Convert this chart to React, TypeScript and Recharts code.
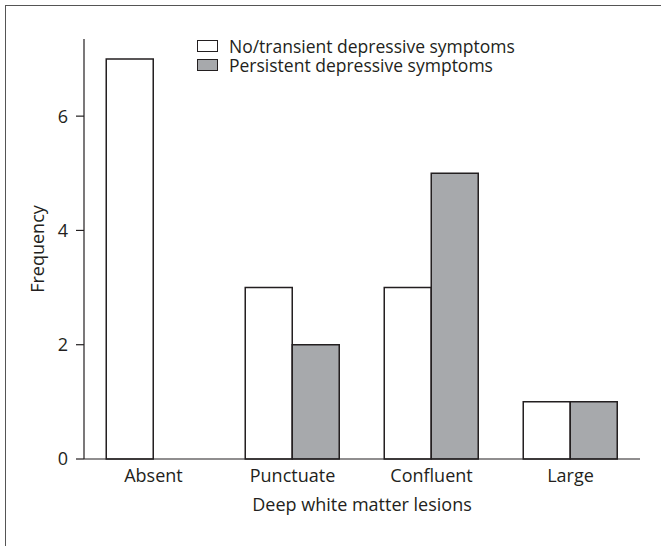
import React from "react";
import { BarChart, Bar, XAxis, YAxis, Legend } from "recharts";

const categories = ["Absent", "Punctuate", "Confluent", "Large"];
const noTransient = [7, 3, 3, 1];
const persistent = [0, 2, 5, 1];
const yTicks = [0, 2, 4, 6];
const boundaryTicks = [0, 1, 2, 3, 4];

const seriesNames = {
  noTransient: "No/transient depressive symptoms",
  persistent: "Persistent depressive symptoms",
};

const data = categories.map((c, i) => ({
  name: c,
  noTransient: noTransient[i],
  persistent: persistent[i] || null,
}));

const FONT = "'Open Sans', sans-serif";
const INK = "#231f20";
const GRAY = "#a7a9ac";
const FS = 18;

function LegendBox({ payload }: any) {
  return (
    <div style={{ fontFamily: FONT, fontSize: 17.5, color: INK, lineHeight: "18.5px" }}>
      {(payload || []).map((p: any) => (
        <div key={p.value} style={{ display: "flex", alignItems: "center", height: 18.5 }}>
          <span
            style={{
              display: "inline-block",
              width: 19,
              height: 10,
              border: `1.5px solid ${INK}`,
              background: p.color,
              marginRight: 11,
            }}
          />
          <span>{p.value}</span>
        </div>
      ))}
    </div>
  );
}

export default function App() {
  return (
    <div style={{ position: "absolute", left: 0, top: 0, width: 661, height: 546, background: "#fff", overflow: "hidden" }}>
      <div
        style={{
          position: "absolute",
          left: 5,
          top: 5,
          width: 700,
          height: 600,
          borderLeft: "1.5px solid #555",
          borderTop: "1.5px solid #555",
        }}
      />
      <BarChart
        width={661}
        height={546}
        data={data}
        margin={{ top: 39, right: 21, bottom: 27, left: 36 }}
        barCategoryGap="16%"
        barGap={0}
        style={{ position: "absolute", left: 0, top: 0 }}
      >
        <XAxis
          xAxisId="bounds"
          type="number"
          domain={[0, 4]}
          ticks={boundaryTicks}
          tickFormatter={() => ""}
          axisLine={false}
          tickLine={{ stroke: INK, strokeWidth: 1.2 }}
          tickSize={7}
          height={0}
        />
        <XAxis
          dataKey="name"
          tickLine={false}
          tickSize={0}
          tickMargin={10}
          axisLine={{ stroke: INK, strokeWidth: 1.2 }}
          tick={{ fill: INK, fontSize: FS, fontFamily: FONT }}
          height={60}
          label={{
            value: "Deep white matter lesions",
            position: "insideBottom",
            offset: 8,
            style: { fill: INK, fontSize: FS, fontFamily: FONT },
          }}
        />
        <YAxis
          domain={[0, 7.35]}
          ticks={yTicks}
          width={48}
          tickSize={8}
          tickMargin={8}
          axisLine={{ stroke: INK, strokeWidth: 1.2 }}
          tickLine={{ stroke: INK, strokeWidth: 1.2 }}
          tick={{ fill: INK, fontSize: FS, fontFamily: FONT }}
          label={{
            value: "Frequency",
            angle: -90,
            position: "insideLeft",
            offset: 2,
            style: { fill: INK, fontSize: FS, fontFamily: FONT, textAnchor: "middle" },
          }}
        />
        <Legend
          verticalAlign="middle"
          align="center"
          layout="vertical"
          content={<LegendBox />}
          wrapperStyle={{ top: 37, left: 197, width: 400 }}
        />
        <Bar
          dataKey="noTransient"
          name={seriesNames.noTransient}
          fill="#ffffff"
          stroke={INK}
          strokeWidth={1.5}
          isAnimationActive={false}
        />
        <Bar
          dataKey="persistent"
          name={seriesNames.persistent}
          fill={GRAY}
          stroke={INK}
          strokeWidth={1.5}
          isAnimationActive={false}
        />
      </BarChart>
    </div>
  );
}
